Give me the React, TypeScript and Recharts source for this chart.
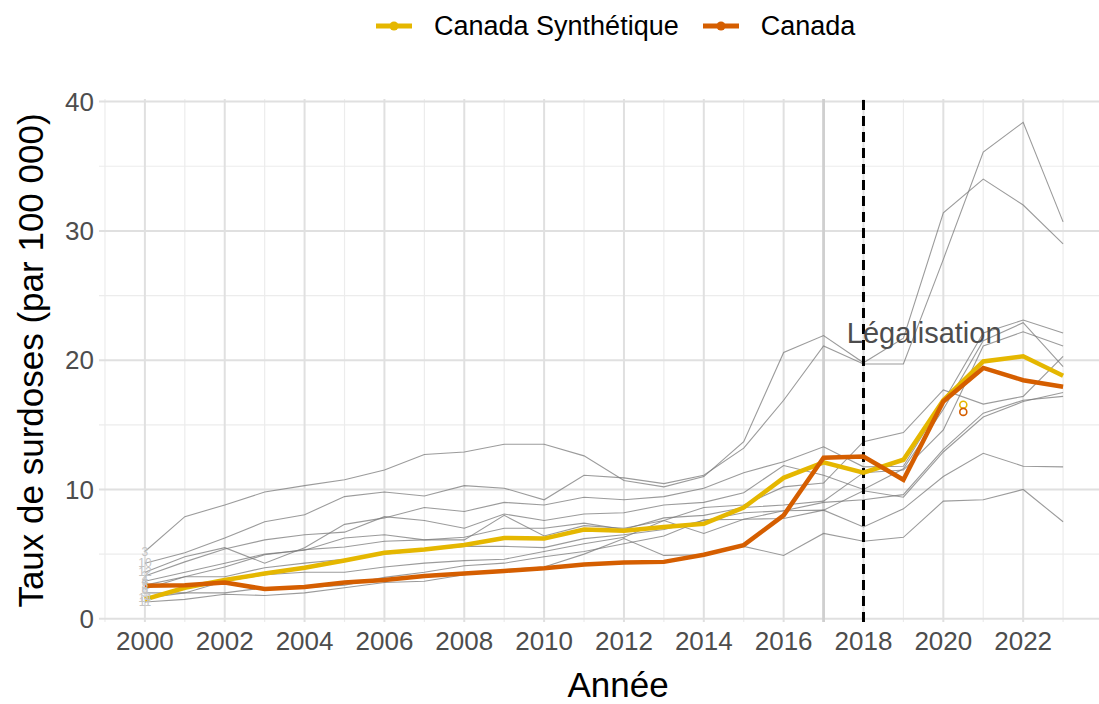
import React from 'react';
import {
  LineChart, Line, XAxis, YAxis, CartesianGrid, Legend, ReferenceLine, ReferenceDot, LabelList,
} from 'recharts';

const years = [2000, 2001, 2002, 2003, 2004, 2005, 2006, 2007, 2008, 2009, 2010, 2011, 2012, 2013, 2014, 2015, 2016, 2017, 2018, 2019, 2020, 2021, 2022, 2023];

const canada = [2.55, 2.6, 2.8, 2.3, 2.45, 2.8, 3.0, 3.3, 3.5, 3.7, 3.9, 4.2, 4.35, 4.4, 4.95, 5.7, 8.0, 12.45, 12.55, 10.75, 16.8, 19.4, 18.45, 17.95];
const canadaSynth = [1.5, 2.4, 3.0, 3.5, 3.95, 4.5, 5.1, 5.35, 5.7, 6.25, 6.2, 6.9, 6.8, 7.1, 7.35, 8.6, 10.9, 12.1, 11.3, 12.3, 16.9, 19.9, 20.3, 18.8];

const donor1 = [5.2, 7.9, 8.8, 9.8, 10.3, 10.75, 11.5, 12.7, 12.9, 13.5, 13.5, 12.6, 10.7, 10.2, 11.0, 13.7, 20.6, 21.9, 19.8, 21.7, 31.4, 34.0, 32.0, 29.0];
const donor2 = [4.3, 5.1, 6.25, 7.5, 8.05, 9.45, 9.8, 9.5, 10.3, 10.1, 9.2, 11.1, 10.9, 10.45, 11.1, 13.2, 16.9, 21.1, 19.7, 19.7, 27.8, 36.1, 38.4, 30.7];
const donor3 = [3.6, 4.8, 5.5, 4.3, 5.5, 7.3, 7.8, 8.6, 8.3, 9.0, 8.8, 9.4, 9.2, 9.45, 10.1, 11.3, 12.15, 13.3, 11.75, 11.8, 16.8, 22.1, 23.1, 22.1];
const donor4 = [3.3, 4.4, 5.4, 6.1, 6.5, 6.7, 7.9, 7.6, 7.0, 8.1, 7.6, 8.1, 8.2, 8.8, 9.0, 9.75, 11.85, 11.1, 10.0, 11.6, 16.2, 21.5, 22.9, 19.5];
const donor5 = [2.9, 3.6, 4.3, 5.0, 5.3, 6.25, 6.5, 6.1, 6.1, 8.0, 6.4, 7.2, 7.0, 7.6, 8.6, 8.8, 10.2, 10.5, 13.7, 14.4, 17.7, 16.6, 17.2, 20.3];
const donor6 = [2.6, 3.25, 4.0, 4.95, 5.35, 5.55, 6.0, 6.1, 6.3, 7.0, 7.0, 7.4, 6.9, 7.8, 8.0, 8.6, 8.8, 9.1, 11.3, 11.5, 14.6, 21.1, 22.2, 21.1];
const donor7 = [2.3, 3.25, 3.25, 3.95, 4.3, 4.6, 5.0, 5.3, 5.6, 5.6, 5.5, 6.2, 6.5, 6.9, 7.6, 8.2, 8.35, 9.0, 9.2, 9.6, 13.1, 15.9, 16.9, 17.2];
const donor8 = [2.0, 2.0, 2.9, 3.4, 3.6, 3.6, 4.0, 4.3, 4.5, 4.6, 5.2, 5.8, 6.3, 7.6, 6.6, 7.7, 7.75, 8.4, 9.9, 9.4, 12.9, 15.6, 16.8, 17.5];
const donor9 = [1.6, 2.0, 2.0, 2.4, 2.4, 2.6, 3.2, 3.6, 4.1, 4.3, 4.8, 5.2, 5.8, 6.4, 7.65, 7.7, 8.35, 8.4, 7.1, 8.5, 11.0, 12.8, 11.8, 11.75];
const donor10 = [1.3, 1.5, 1.9, 1.8, 2.0, 2.4, 2.8, 2.9, 3.4, 3.8, 4.0, 5.0, 6.2, 4.9, 4.95, 5.6, 4.9, 6.6, 6.0, 6.3, 9.1, 9.2, 10.0, 7.5];

const donorSeries = [donor1, donor2, donor3, donor4, donor5, donor6, donor7, donor8, donor9, donor10];
const donorIds = ['3', '10', '12', '2', '4', '5', '6', '9', '14', '11'];

const xTicks = [2000, 2002, 2004, 2006, 2008, 2010, 2012, 2014, 2016, 2018, 2020, 2022];
const xMinor = [1999, 2001, 2003, 2005, 2007, 2009, 2011, 2013, 2015, 2017, 2019, 2021, 2023];
const yTicks = [0, 10, 20, 30, 40];
const yMinor = [5, 15, 25, 35];

const seriesNames = { synth: 'Canada Synthétique', canada: 'Canada' };
const annotationText = 'Légalisation';
const xTitle = 'Année';
const yTitle = 'Taux de surdoses (par 100 000)';

const YELLOW = '#E5B700';
const ORANGE = '#D55E00';
const FONT = '"Liberation Sans", Arial, Helvetica, sans-serif';

const data = years.map((year, i) => {
  const row: Record<string, number> = { year, canada: canada[i], synth: canadaSynth[i] };
  donorSeries.forEach((s, k) => { row['d' + k] = s[i]; });
  return row;
});

const legendItems = [
  { label: seriesNames.synth, color: YELLOW },
  { label: seriesNames.canada, color: ORANGE },
];

const LegendContent = () => (
  <div style={{ height: 99, position: 'relative', fontFamily: FONT }}>
    <div style={{ display: 'flex', alignItems: 'center', paddingLeft: 376, paddingTop: 8, height: 36 }}>
      {legendItems.map((it, i) => (
        <div key={i} style={{ display: 'flex', alignItems: 'center', marginRight: 24 }}>
          <svg width={36} height={14} style={{ display: 'block' }}>
            <line x1={0} y1={7} x2={36} y2={7} stroke={it.color} strokeWidth={5} />
            <circle cx={18} cy={7} r={4.5} fill={it.color} />
          </svg>
          <span style={{ marginLeft: 22, fontSize: 27, color: '#000', lineHeight: '36px' }}>{it.label}</span>
        </div>
      ))}
    </div>
  </div>
);

const makeIdLabel = (id: string) => (props: any) => {
  if (props.index !== 0) return null;
  return (
    <text x={props.x} y={props.y} textAnchor="middle" dominantBaseline="central" fontSize={12} fill="#c4c4c4" fontFamily={FONT}>
      {id}
    </text>
  );
};

const YTitle = (props: any) => {
  const vb = props.viewBox || {};
  const cy = vb.y + vb.height / 2;
  const cx = 30;
  return (
    <text x={cx} y={cy} transform={`rotate(-90, ${cx}, ${cy})`} textAnchor="middle" dominantBaseline="central" fontSize={35} fill="#000" fontFamily={FONT}>
      {yTitle}
    </text>
  );
};

export default function App() {
  return (
    <div style={{ position: 'absolute', left: 0, top: 0, width: 1099, height: 704, overflow: 'hidden', background: '#fff' }}>
      <LineChart width={1109} height={704} data={data} margin={{ top: 0, right: 0, bottom: 0, left: 0 }}>
        <CartesianGrid stroke="#ececec" strokeWidth={1.2} verticalValues={xMinor} horizontalValues={yMinor} />
        <CartesianGrid stroke="#e0e0e0" strokeWidth={2} verticalValues={xTicks} horizontalValues={yTicks} />
        <XAxis
          dataKey="year" type="number" domain={[1998.85, 2024.15]} ticks={xTicks} allowDataOverflow
          tickLine={false} axisLine={false} tickSize={0} tickMargin={10} height={82}
          tick={{ fill: '#4d4d4d', fontSize: 26, fontFamily: FONT }}
          label={{ value: xTitle, position: 'insideBottom', offset: 7, dx: 14, fill: '#000', fontSize: 35, fontFamily: FONT }}
        />
        <YAxis
          type="number" domain={[-0.25, 40.2]} ticks={yTicks} allowDataOverflow
          tickLine={false} axisLine={false} tickSize={0} tickMargin={5} width={99}
          tick={{ fill: '#4d4d4d', fontSize: 26, fontFamily: FONT }}
          label={<YTitle />}
        />
        <Legend verticalAlign="top" align="left" content={<LegendContent />} />
        <ReferenceLine x={2017} stroke="#cfcfcf" strokeWidth={2.8} />
        {donorSeries.map((_, k) => (
          <Line key={k} dataKey={'d' + k} stroke="#7a7a7a" strokeOpacity={0.75} strokeWidth={1.1} dot={false}
            isAnimationActive={false} legendType="none">
            <LabelList dataKey={'d' + k} content={makeIdLabel(donorIds[k])} />
          </Line>
        ))}
        <ReferenceLine x={2018} stroke="#000" strokeWidth={3} strokeDasharray="10 6" />
        <Line dataKey="synth" name={seriesNames.synth} stroke={YELLOW} strokeWidth={4.5} dot={false} isAnimationActive={false} />
        <Line dataKey="canada" name={seriesNames.canada} stroke={ORANGE} strokeWidth={4.5} dot={false} isAnimationActive={false} />
        <ReferenceDot x={2020.5} y={16.55} r={3.5} fill="none" stroke={YELLOW} strokeWidth={1.6} isFront />
        <ReferenceDot x={2020.5} y={16.0} r={3.5} fill="none" stroke={ORANGE} strokeWidth={1.6} isFront />
        <ReferenceDot x={2019.52} y={22.1} r={0} fill="none" stroke="none" isFront
          label={{ value: annotationText, position: 'center', fill: '#4d4d4d', fontSize: 29, fontFamily: FONT }} />
      </LineChart>
    </div>
  );
}
